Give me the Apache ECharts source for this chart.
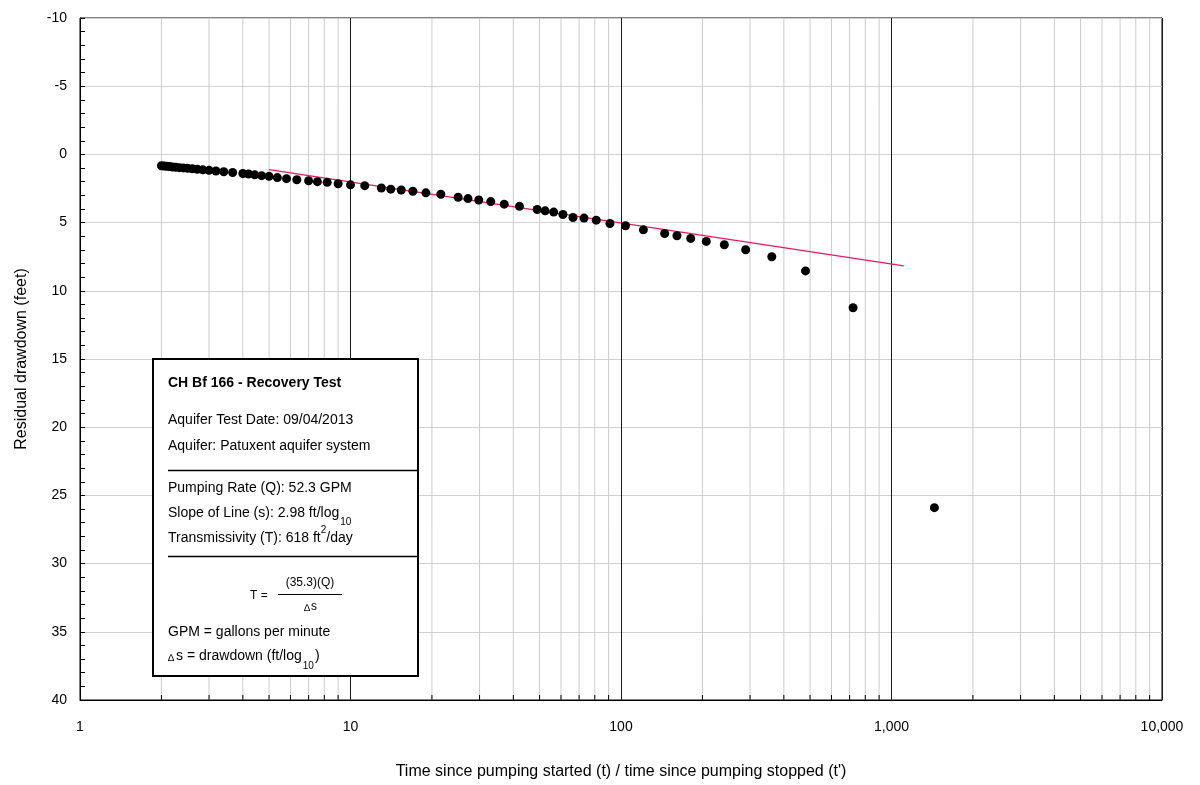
<!DOCTYPE html>
<html>
<head>
<meta charset="utf-8">
<script src="https://cdn.jsdelivr.net/npm/echarts@6/dist/echarts.min.js"></script>
<style>
html,body{margin:0;padding:0;background:#fff;}
#chart{width:1200px;height:785px;}
</style>
</head>
<body>
<div id="chart"></div>
<script>
// t/t' ratio (x) and residual drawdown in feet (y)
const timeRatio = [2.000,2.043,2.091,2.143,2.200,2.263,2.333,2.412,2.500,2.600,2.714,2.846,3.000,3.182,3.400,3.667,4.000,4.200,4.429,4.692,5.000,5.364,5.800,6.333,7.000,7.545,8.200,9.000,10.00,11.29,13.00,14.09,15.40,17.00,19.00,21.57,25.00,27.18,29.80,33.00,37.00,42.14,49.00,52.43,56.38,61.00,66.45,73.00,81.00,91.00,103.9,121.0,145.0,161.0,181.0,206.7,241.0,289.0,361.0,481.0,721.0,1441];
const drawdown = [0.83,0.85,0.87,0.89,0.92,0.94,0.97,0.99,1.02,1.05,1.09,1.13,1.17,1.22,1.27,1.33,1.40,1.44,1.50,1.56,1.61,1.70,1.78,1.86,1.93,2.00,2.05,2.15,2.23,2.29,2.46,2.55,2.61,2.70,2.82,2.92,3.14,3.24,3.34,3.46,3.65,3.81,4.04,4.14,4.23,4.41,4.63,4.67,4.82,5.07,5.23,5.53,5.80,5.96,6.16,6.38,6.62,6.99,7.50,8.54,11.24,25.9];
// straight-line fit (slope 2.98 ft/log10)
const fitX = [5, 1110];
const fitY = [1.12, 8.17];
// minor log grid positions
const minorTicks = [2,3,4,5,6,7,8,9,20,30,40,50,60,70,80,90,200,300,400,500,600,700,800,900,2000,3000,4000,5000,6000,7000,8000,9000];
const yTicks = {min: -10, max: 40, interval: 5};
const xRange = {min: 1, max: 10000};

const FONT = '"Liberation Sans", Arial, sans-serif';
const chart = echarts.init(document.getElementById('chart'), null, {renderer: 'canvas'});

const ctx = document.createElement('canvas').getContext('2d');
function tw(text, size, bold) {
  ctx.font = (bold ? 'bold ' : '') + size + 'px "Liberation Sans"';
  return ctx.measureText(text).width;
}

const bx = 168;
function txt(x, y, text, size, extra) {
  return {
    type: 'text', x: x, y: y, z: 101,
    style: Object.assign({text: text, font: size + 'px ' + FONT, fill: '#000', verticalAlign: 'middle', align: 'left'}, extra || {})
  };
}
const sl = 'Slope of Line (s): 2.98 ft/log';
const tr = 'Transmissivity (T): 618 ft';
const ds = 's = drawdown (ft/log';
const dW = tw('\u2206', 10);
const graphics = [
  {type: 'rect', shape: {x: 153, y: 359, width: 265, height: 317}, style: {fill: '#fff', stroke: '#000', lineWidth: 2}, z: 100},
  txt(bx, 383, 'CH Bf 166 - Recovery Test', 14, {font: 'bold 14px ' + FONT}),
  txt(bx, 420, 'Aquifer Test Date: 09/04/2013', 14),
  txt(bx, 446, 'Aquifer: Patuxent aquifer system', 14),
  {type: 'line', shape: {x1: 168, y1: 470.5, x2: 418, y2: 470.5}, style: {stroke: '#000', lineWidth: 1.5}, z: 101},
  txt(bx, 488, 'Pumping Rate (Q): 52.3 GPM', 14),
  txt(bx, 513, sl, 14),
  txt(bx + tw(sl, 14) + 1, 522, '10', 10),
  txt(bx, 538, tr, 14),
  txt(bx + tw(tr, 14), 530, '2', 10),
  txt(bx + tw(tr, 14) + tw('2', 10), 538, '/day', 14),
  {type: 'line', shape: {x1: 168, y1: 556.5, x2: 418, y2: 556.5}, style: {stroke: '#000', lineWidth: 1.5}, z: 101},
  txt(271, 595.5, 'T = ', 12, {align: 'right'}),
  txt(310, 583, '(35.3)(Q)', 12, {align: 'center'}),
  {type: 'line', shape: {x1: 278, y1: 594.5, x2: 342, y2: 594.5}, style: {stroke: '#000', lineWidth: 1}, z: 101},
  txt(310 - (dW + tw('s', 12)) / 2, 608, '\u2206', 10),
  txt(310 - (dW + tw('s', 12)) / 2 + dW + 1, 607, 's', 12),
  txt(bx, 632.5, 'GPM = gallons per minute', 14),
  txt(bx, 658, '\u2206', 10),
  txt(bx + dW + 2, 656, ds, 14),
  txt(bx + dW + 2 + tw(ds, 14) + 1, 666.5, '10', 10),
  txt(bx + dW + 2 + tw(ds, 14) + 1 + tw('10', 10) + 1, 656, ')', 14)
];

const option = {
  animation: false,
  backgroundColor: '#fff',
  grid: {left: 80, top: 18, right: 38, bottom: 81, show: true, borderColor: '#000', borderWidth: 1, backgroundColor: 'transparent'},
  xAxis: {
    type: 'log', logBase: 10, min: xRange.min, max: xRange.max,
    name: "Time since pumping started (t) / time since pumping stopped (t')",
    nameLocation: 'middle', nameGap: 64,
    nameTextStyle: {fontFamily: FONT, fontSize: 16, color: '#000'},
    axisLine: {show: true, onZero: false, lineStyle: {color: '#000', width: 1}},
    axisTick: {show: false},
    axisLabel: {fontFamily: FONT, fontSize: 14, color: '#000', margin: 20,
      formatter: v => Number(v).toLocaleString('en-US')},
    splitLine: {show: true, lineStyle: {color: '#1a1a1a', width: 1}}
  },
  yAxis: {
    type: 'value', inverse: true, min: yTicks.min, max: yTicks.max, interval: yTicks.interval,
    name: 'Residual drawdown (feet)', nameLocation: 'middle', nameGap: 50,
    nameTextStyle: {fontFamily: FONT, fontSize: 16, color: '#000'},
    axisLine: {show: true, onZero: false, lineStyle: {color: '#000', width: 1}},
    axisTick: {show: true, inside: true, length: 5, lineStyle: {color: '#000'}},
    minorTick: {show: true, splitNumber: 5, length: 5, lineStyle: {color: '#000'}},
    axisLabel: {fontFamily: FONT, fontSize: 14, color: '#000', margin: 13},
    splitLine: {show: true, lineStyle: {color: '#d0d0d0', width: 1}}
  },
  series: [
    {
      type: 'custom', z: 1, silent: true,
      data: minorTicks.map(v => [v]),
      encode: {x: 0},
      renderItem: function (params, api) {
        const top = api.coord([api.value(0), yTicks.min]);
        const bot = api.coord([api.value(0), yTicks.max]);
        return {type: 'group', children: [
          {type: 'line', shape: {x1: top[0], y1: top[1], x2: bot[0], y2: bot[1]}, style: {stroke: '#cccccc', lineWidth: 1}},
          {type: 'line', shape: {x1: bot[0], y1: bot[1], x2: bot[0], y2: bot[1] - 5}, style: {stroke: '#000', lineWidth: 1}}
        ]};
      }
    },
    {
      type: 'line', z: 2, silent: true, symbol: 'none',
      data: fitX.map((x, i) => [x, fitY[i]]),
      lineStyle: {color: '#e8195c', width: 1.3}
    },
    {
      type: 'scatter', z: 3, symbol: 'circle', symbolSize: 9, silent: true,
      itemStyle: {color: '#000', opacity: 1},
      data: timeRatio.map((x, i) => [x, drawdown[i]])
    }
  ],
  graphic: graphics
};
chart.setOption(option);
</script>
</body>
</html>
